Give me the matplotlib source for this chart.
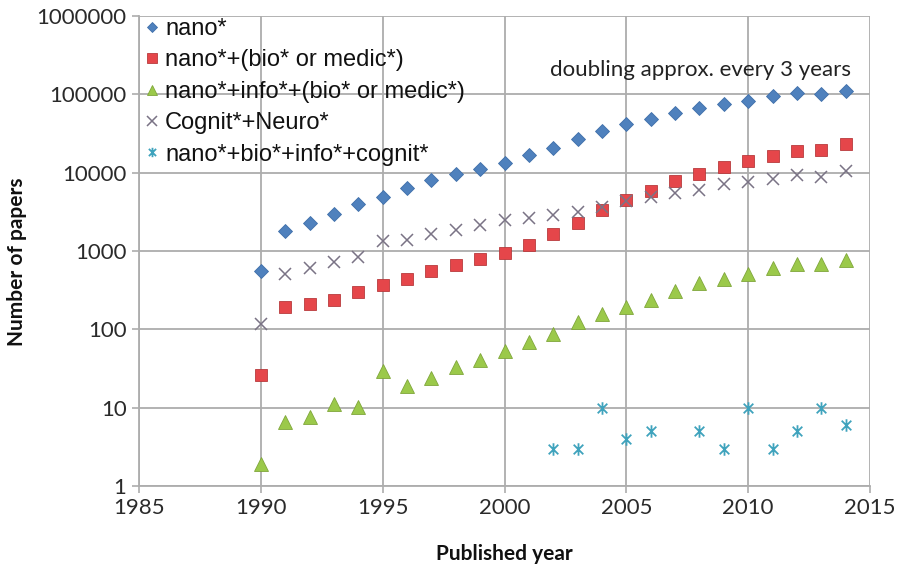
import matplotlib
matplotlib.use("Agg")
import matplotlib.pyplot as plt
from matplotlib.path import Path
from matplotlib.ticker import FixedLocator, FixedFormatter, NullLocator

years = list(range(1990, 2015))

nano = [557, 1800, 2280, 3000, 3950, 4900, 6380, 8140, 9730, 11300, 13100, 16700,
        20600, 26700, 34000, 41400, 49000, 58400, 66800, 76000, 81500, 95000,
        105000, 102000, 110000]
nano_biomed = [26, 190, 210, 236, 298, 373, 445, 557, 659, 780, 930, 1190,
               1640, 2300, 3300, 4440, 5850, 7840, 9730, 11800, 14100, 16200,
               18900, 19300, 23000]
nano_info_biomed = [1.9, 6.6, 7.7, 11.1, 10.3, 29.6, 18.9, 23.6, 33, 41, 53, 69,
                    88, 125, 155, 194, 240, 310, 392, 433, 506, 615, 692, 678, 760]
cognit_neuro = [116, 516, 609, 727, 841, 1350, 1400, 1640, 1880, 2130, 2470, 2600,
                2840, 3160, 3660, 4360, 4900, 5500, 6080, 7110, 7590, 8240, 9460,
                8800, 10500]
nbic_years = [2002, 2003, 2004, 2005, 2006, 2008, 2009, 2010, 2011, 2012, 2013, 2014]
nbic = [3, 3, 10, 4, 5, 5, 3, 10, 3, 5, 10, 6]

labels = ["nano*", "nano*+(bio* or medic*)", "nano*+info*+(bio* or medic*)",
          "Cognit*+Neuro*", "nano*+bio*+info*+cognit*"]
xticks = [1985, 1990, 1995, 2000, 2005, 2010, 2015]
yticks = [1, 10, 100, 1000, 10000, 100000, 1000000]
ytick_labels = ["1", "10", "100", "1000", "10000", "100000", "1000000"]

# asterisk marker: X plus vertical bar
ast = Path([(-0.5, -0.5), (0.5, 0.5), (-0.5, 0.5), (0.5, -0.5), (0, -0.65), (0, 0.65)],
           [Path.MOVETO, Path.LINETO, Path.MOVETO, Path.LINETO, Path.MOVETO, Path.LINETO])

fig = plt.figure(figsize=(8.98, 5.73), dpi=100)
ax = fig.add_axes([139/898, 1 - 486/573, (870-139)/898, (486-16)/573])

ax.set_yscale("log")
ax.set_xlim(1985, 2015)
ax.set_ylim(1, 1000000)

grid_c = "#ADADAD"
ax.plot(years, nano, ls="none", marker="D", ms=6.8, mfc="#4F81BD", mec="#3F6FAA",
        mew=0.6, label=labels[0], zorder=3)
ax.plot(years, nano_biomed, ls="none", marker="s", ms=9.3, mfc="#E5464A", mec="#B83A3D",
        mew=0.6, label=labels[1], zorder=3)
ax.plot(years, nano_info_biomed, ls="none", marker="^", ms=9.5, mfc="#9BC94A", mec="#7FA63A",
        mew=0.6, label=labels[2], zorder=3)
ax.plot(years, cognit_neuro, ls="none", marker="x", ms=9.0, mec="#7A7385", mew=1.1,
        label=labels[3], zorder=3)
ax.plot(nbic_years, nbic, ls="none", marker=ast, ms=9.0, mec="#3FA3BD", mew=1.3,
        label=labels[4], zorder=3)

ax.xaxis.set_major_locator(FixedLocator(xticks))
ax.yaxis.set_major_locator(FixedLocator(yticks))
ax.yaxis.set_major_formatter(FixedFormatter(ytick_labels))
ax.yaxis.set_minor_locator(NullLocator())
ax.set_xticklabels([str(x) for x in xticks])

ax.grid(True, color=grid_c, lw=1.3)
ax.set_axisbelow(True)
for s in ["top", "right"]:
    ax.spines[s].set_visible(False)
for s in ["left", "bottom"]:
    ax.spines[s].set_color(grid_c)
    ax.spines[s].set_linewidth(1.3)
ax.tick_params(axis="both", which="major", direction="out", length=5, width=1.2,
               color=grid_c, labelsize=16, labelcolor="#2A2A2A", pad=4)
for t in ax.get_xticklabels() + ax.get_yticklabels():
    t.set_fontfamily("Lato")

ax.set_xlabel("Published year", fontfamily="Lato", fontweight="bold", fontsize=15,
              color="#111111", labelpad=18)
ax.set_ylabel("Number of papers", fontfamily="Lato", fontweight="bold", fontsize=15,
              color="#111111")
ax.yaxis.set_label_coords((27 - 139) / 731, (486 - 262) / 470)

ax.text(0.974, (486 - 70) / 470, "doubling approx. every 3 years", transform=ax.transAxes,
        ha="right", va="center", fontfamily="Lato", fontsize=16, color="#222222")

leg = ax.legend(loc="upper left", bbox_to_anchor=(0.005, 0.996), frameon=False,
                prop={"family": "Liberation Sans", "size": 17},
                handlelength=0.8, handletextpad=0.15, labelspacing=0.40,
                borderaxespad=0.0, borderpad=0.0, markerscale=0.75)
for t in leg.get_texts():
    t.set_color("#111111")

fig.savefig("out.png", dpi=100)
